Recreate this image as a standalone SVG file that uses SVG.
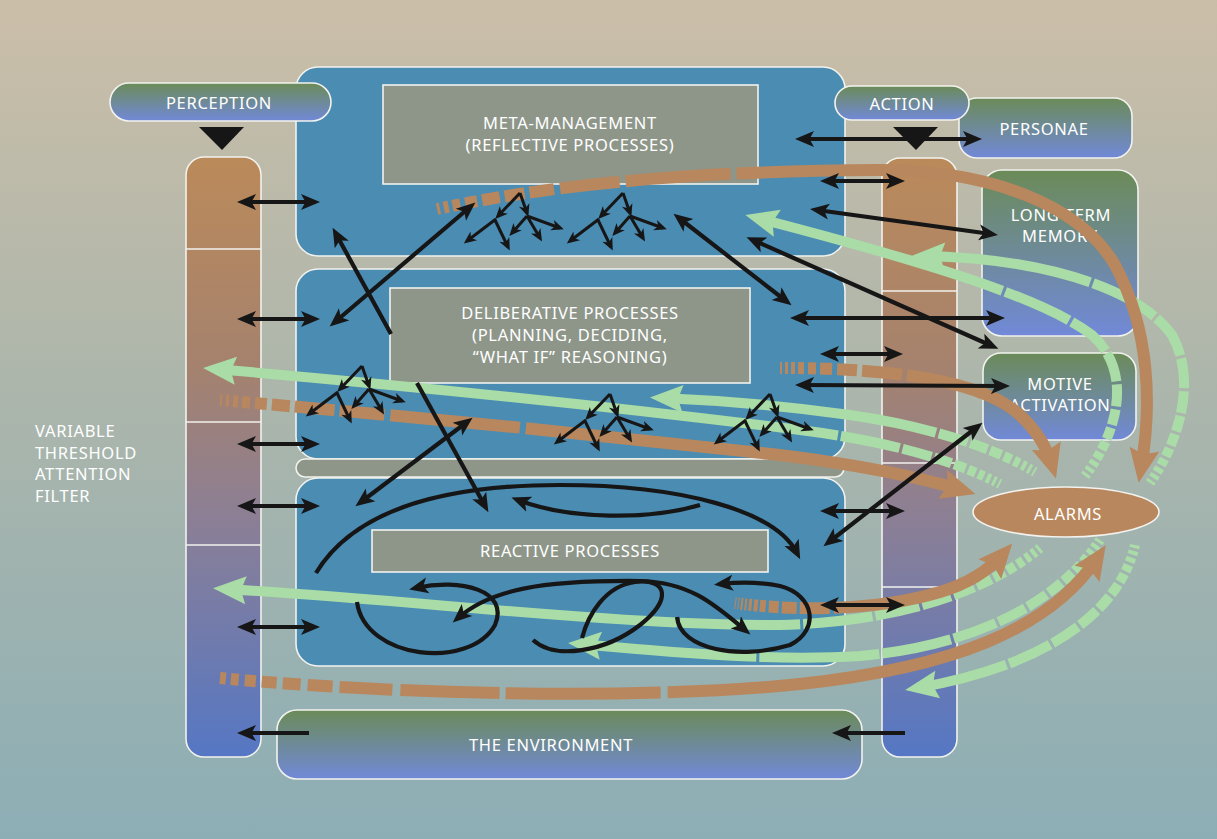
<svg xmlns="http://www.w3.org/2000/svg" width="1217" height="839" viewBox="0 0 1217 839">
<defs>
<linearGradient id="bg" x1="0" y1="0" x2="0" y2="1">
<stop offset="0" stop-color="#cbbea8"/>
<stop offset="0.45" stop-color="#adb6ab"/>
<stop offset="1" stop-color="#8caeb5"/>
</linearGradient>
<linearGradient id="pill" x1="0" y1="0" x2="0" y2="1">
<stop offset="0" stop-color="#6b8b58"/>
<stop offset="1" stop-color="#7189d8"/>
</linearGradient>
<linearGradient id="col" x1="0" y1="0" x2="0" y2="1">
<stop offset="0" stop-color="#bb8a5a"/>
<stop offset="0.35" stop-color="#a5826e"/>
<stop offset="0.6" stop-color="#8c7f95"/>
<stop offset="1" stop-color="#5577c4"/>
</linearGradient>
<marker id="ah" viewBox="-19 -9 20 18" refX="-7" refY="0" markerWidth="20" markerHeight="18" markerUnits="userSpaceOnUse" orient="auto-start-reverse"><path d="M0,0 L-19,-8 L-14.5,0 L-19,8 Z" fill="#161616"/></marker>
<marker id="sh" viewBox="-13 -6 14 12" refX="-4" refY="0" markerWidth="14" markerHeight="12" markerUnits="userSpaceOnUse" orient="auto"><path d="M0,0 L-12.5,-5.5 L-9,0 L-12.5,5.5 Z" fill="#161616"/></marker>
<marker id="hb" viewBox="-35 -16 36 32" refX="-14" refY="0" markerWidth="36" markerHeight="32" markerUnits="userSpaceOnUse" orient="auto"><path d="M0,0 L-34,-15 L-29,0 L-34,15 Z" fill="#b9875d"/></marker>
<marker id="hg" viewBox="-35 -16 36 32" refX="-12" refY="0" markerWidth="36" markerHeight="32" markerUnits="userSpaceOnUse" orient="auto"><path d="M0,0 L-33,-14 L-28,0 L-33,14 Z" fill="#a9dca6"/></marker>
<g id="tree" fill="none" stroke="#161616" stroke-width="3" marker-end="url(#sh)">
<path d="M0,0 L-22,23"/>
<path d="M-24,26 L-53,48"/>
<path d="M-25,27 L-12,54"/>
<path d="M0,0 L7,20"/>
<path d="M7,23 L-8,40"/>
<path d="M7,23 L20,45"/>
<path d="M7,23 L40,35"/>
</g>
</defs>
<style>
.t{font-family:"Noto Sans","Open Sans","DejaVu Sans",sans-serif;font-size:16.5px;fill:#fff;letter-spacing:0.7px;text-anchor:middle}
.tl{text-anchor:start}
.blue{fill:#4b8cb3;stroke:#f2f2ee;stroke-width:1.6}
.grey{fill:#8e968a;stroke:#f2f2ee;stroke-width:1.6}
.pill{fill:url(#pill);stroke:#f2f2ee;stroke-width:1.6}
.colm{fill:url(#col);stroke:#f2f2ee;stroke-width:1.6}
.div{stroke:#f2f2ee;stroke-width:1.6}
.bk{fill:none;stroke:#161616;stroke-width:4.2}
.ba{marker-start:url(#ah);marker-end:url(#ah)}
.ea{marker-end:url(#ah)}
.br{fill:none;stroke:#b9875d;stroke-width:12;marker-end:url(#hb)}
.gr{fill:none;stroke:#a9dca6;stroke-width:10;marker-end:url(#hg)}
</style>
<rect x="0" y="0" width="1217" height="839" fill="url(#bg)"/>

<g id="meta-management">
<rect class="blue" x="296" y="67" width="549" height="189" rx="22"/>
<rect class="grey" x="383" y="85" width="375" height="99"/>
<text class="t" x="570" y="129">META-MANAGEMENT</text>
<text class="t" x="570" y="151">(REFLECTIVE PROCESSES)</text>
</g>
<g id="deliberative">
<rect class="blue" x="296" y="269" width="549" height="190" rx="22"/>
<rect class="grey" x="390" y="288" width="360" height="95"/>
<text class="t" x="570" y="319">DELIBERATIVE PROCESSES</text>
<text class="t" x="570" y="341">(PLANNING, DECIDING,</text>
<text class="t" x="570" y="363">“WHAT IF” REASONING)</text>
</g>
<g id="separator">
<rect class="grey" x="296" y="459" width="548" height="18" rx="9"/>
</g>
<g id="reactive">
<rect class="blue" x="296" y="478" width="549" height="188" rx="22"/>
<rect class="grey" x="372" y="530" width="396" height="42"/>
<text class="t" x="570" y="557">REACTIVE PROCESSES</text>
</g>
<g id="personae">
<rect class="pill" x="959" y="98" width="173" height="60" rx="18"/>
<text class="t" x="1044" y="135">PERSONAE</text>
</g>
<g id="perception">
<rect class="pill" x="110" y="83" width="221" height="38" rx="19"/>
<text class="t" x="219" y="109">PERCEPTION</text>
<polygon points="199,127 244,127 222,150" fill="#161616"/>
</g>
<g id="perception-column">
<rect class="colm" x="186" y="157" width="75" height="600" rx="18"/>
<line class="div" x1="186" y1="249" x2="261" y2="249"/>
<line class="div" x1="186" y1="422" x2="261" y2="422"/>
<line class="div" x1="186" y1="545" x2="261" y2="545"/>
</g>
<g id="action">
<rect class="pill" x="835" y="86" width="134" height="34" rx="17"/>
<text class="t" x="902" y="110">ACTION</text>
<polygon points="893,127 938,127 916,150" fill="#161616"/>
</g>
<g id="action-column">
<rect class="colm" x="882" y="158" width="75" height="599" rx="18"/>
<line class="div" x1="882" y1="291" x2="957" y2="291"/>
<line class="div" x1="882" y1="463" x2="957" y2="463"/>
<line class="div" x1="882" y1="587" x2="957" y2="587"/>
</g>
<g id="long-term-memory">
<rect class="pill" x="982" y="170" width="156" height="166" rx="20"/>
<text class="t" x="1061" y="221">LONG-TERM</text>
<text class="t" x="1060" y="242">MEMORY</text>
</g>
<g id="motive-activation">
<rect class="pill" x="983" y="353" width="153" height="87" rx="18"/>
<text class="t" x="1060" y="390">MOTIVE</text>
<text class="t" x="1060" y="411">ACTIVATION</text>
</g>
<g id="alarms">
<ellipse cx="1066" cy="512" rx="93" ry="25" fill="#b9875d" stroke="#f2f2ee" stroke-width="1.6"/>
<text class="t" x="1068" y="520">ALARMS</text>
</g>
<g id="environment">
<rect class="pill" x="277" y="710" width="585" height="69" rx="20"/>
<text class="t" x="551" y="751">THE ENVIRONMENT</text>
</g>
<g id="filter-label">
<text class="t tl" x="35" y="437">VARIABLE</text>
<text class="t tl" x="35" y="459">THRESHOLD</text>
<text class="t tl" x="35" y="480">ATTENTION</text>
<text class="t tl" x="35" y="502">FILTER</text>
</g>

<g id="connectors">
<g id="green-paths">
<path class="gr" stroke-dasharray="3 3 4 3 5 3 7 3 9 3 12 3 16 3 22 3 30 3 45 3 70 3 3000" d="M1150,483 C1180,440 1197,380 1172,335 C1132,280 1020,258 924,256"/>
<path class="gr" stroke-dasharray="3 3 4 3 5 3 7 3 9 3 12 3 16 3 22 3 30 3 45 3 70 3 3000" d="M1085,476 C1120,430 1132,370 1092,335 C1040,295 900,255 757,218"/>
<path class="gr" stroke-dasharray="2 3 3 3 4 3 6 3 8 3 12 3 18 3 30 3 3000" d="M1035,472 C990,445 920,425 850,415 C780,405 710,400 662,398"/>
<path class="gr" stroke-dasharray="2 3 3 3 4 3 6 3 8 3 12 3 18 3 30 3 60 3 3000" d="M1000,484 C950,458 880,440 800,430 C600,405 400,385 215,369"/>
<path class="gr" stroke-dasharray="3 3 4 3 5 3 7 3 9 3 12 3 16 3 22 3 30 3 45 3 70 3 120 3 3000" d="M1040,548 C990,590 900,622 780,625 C600,625 420,600 225,589"/>
<path class="gr" stroke-dasharray="3 3 4 3 5 3 7 3 9 3 12 3 16 3 22 3 30 3 45 3 70 3 120 3 3000" d="M1100,540 C1060,600 980,645 860,656 C760,662 650,650 580,644"/>
<path class="gr" stroke-dasharray="3 3 4 3 5 3 7 3 9 3 12 3 16 3 22 3 30 3 45 3 3000" d="M1135,545 C1120,610 1050,665 917,688"/>
</g>
<g id="brown-paths">
<path class="br" stroke-dasharray="3 4 5 4 8 5 12 5 18 5 20 5 25 6 60 6 105 6 3000" d="M437,209 C560,183 700,171 880,170 C990,170 1080,205 1115,265 C1150,330 1152,405 1141,469"/>
<path class="br" stroke-dasharray="2 4 3 4 5 4 8 5 12 5 18 5 40 5 45 6 130 6 3000" d="M220,400 C450,420 650,440 780,455 C860,465 915,476 962,490"/>
<path class="br" stroke-dasharray="2 3 3 3 4 3 6 4 8 4 12 5 20 5 40 5 3000" d="M780,368 C880,368 980,378 1020,415 C1038,432 1047,448 1052,465"/>
<path class="br" stroke-dasharray="1 2 1 2 2 2 2 2 3 2 4 2 6 3 10 3 15 3 30 4 3000" d="M735,603 C800,612 880,610 940,592 C970,583 990,569 1003,554"/>
<path class="br" stroke-dasharray="6 5 8 6 11 6 15 6 18 7 25 7 53 8 99 6 155 7 3000" d="M220,678 C400,695 650,700 800,684 C950,668 1050,630 1098,557"/>
</g>
<g id="black-arrows">
<line class="bk ba" x1="244" y1="202" x2="313" y2="202"/>
<line class="bk ba" x1="244" y1="319" x2="313" y2="319"/>
<line class="bk ba" x1="244" y1="444" x2="313" y2="444"/>
<line class="bk ba" x1="244" y1="506" x2="313" y2="506"/>
<line class="bk ba" x1="244" y1="627" x2="313" y2="627"/>
<line class="bk ea" x1="309" y1="733" x2="244" y2="733"/>
<line class="bk ba" x1="802" y1="139" x2="975" y2="139"/>
<line class="bk ba" x1="827" y1="181" x2="898" y2="181"/>
<line class="bk ba" x1="817" y1="210" x2="991" y2="234"/>
<line class="bk ba" x1="753" y1="240" x2="992" y2="346"/>
<line class="bk ba" x1="679" y1="218" x2="786" y2="301"/>
<line class="bk ba" x1="797" y1="318" x2="998" y2="318"/>
<line class="bk ba" x1="827" y1="354" x2="896" y2="354"/>
<line class="bk ba" x1="802" y1="385" x2="1003" y2="386"/>
<line class="bk ba" x1="827" y1="511" x2="898" y2="511"/>
<line class="bk ba" x1="829" y1="542" x2="977" y2="427"/>
<line class="bk ba" x1="827" y1="605" x2="898" y2="605"/>
<line class="bk ea" x1="905" y1="733" x2="839" y2="733"/>
<line class="bk ba" x1="335" y1="322" x2="470" y2="207"/>
<path class="bk" marker-start="url(#ah)" d="M336,234 L391,334"/>
<path class="bk ea" d="M417,383 L485,506"/>
<line class="bk ba" x1="361" y1="502" x2="467" y2="422"/>
<path class="bk ea" d="M316,573 C360,500 470,485 560,485 C680,485 775,510 797,553"/>
<path class="bk ea" d="M700,505 C650,520 570,520 518,500"/>
<path class="bk ea" d="M357,602 C365,660 470,670 495,625 C510,590 460,578 416,588"/>
<path class="bk ba" d="M458,618 C490,590 540,580 640,581 C690,582 715,605 745,630"/>
<path class="bk" d="M533,640 C555,660 605,652 640,625 C672,600 668,578 635,582 C605,586 588,615 582,638"/>
<path class="bk ea" d="M677,617 C680,650 740,660 790,645 C820,630 815,595 780,586 C760,582 740,582 721,584"/>
</g>
<g id="trees">
<use href="#tree" x="520" y="193"/>
<use href="#tree" x="623" y="193"/>
<use href="#tree" x="362" y="366"/>
<use href="#tree" x="610" y="394"/>
<use href="#tree" x="770" y="394"/>
</g>
</g>
</svg>
